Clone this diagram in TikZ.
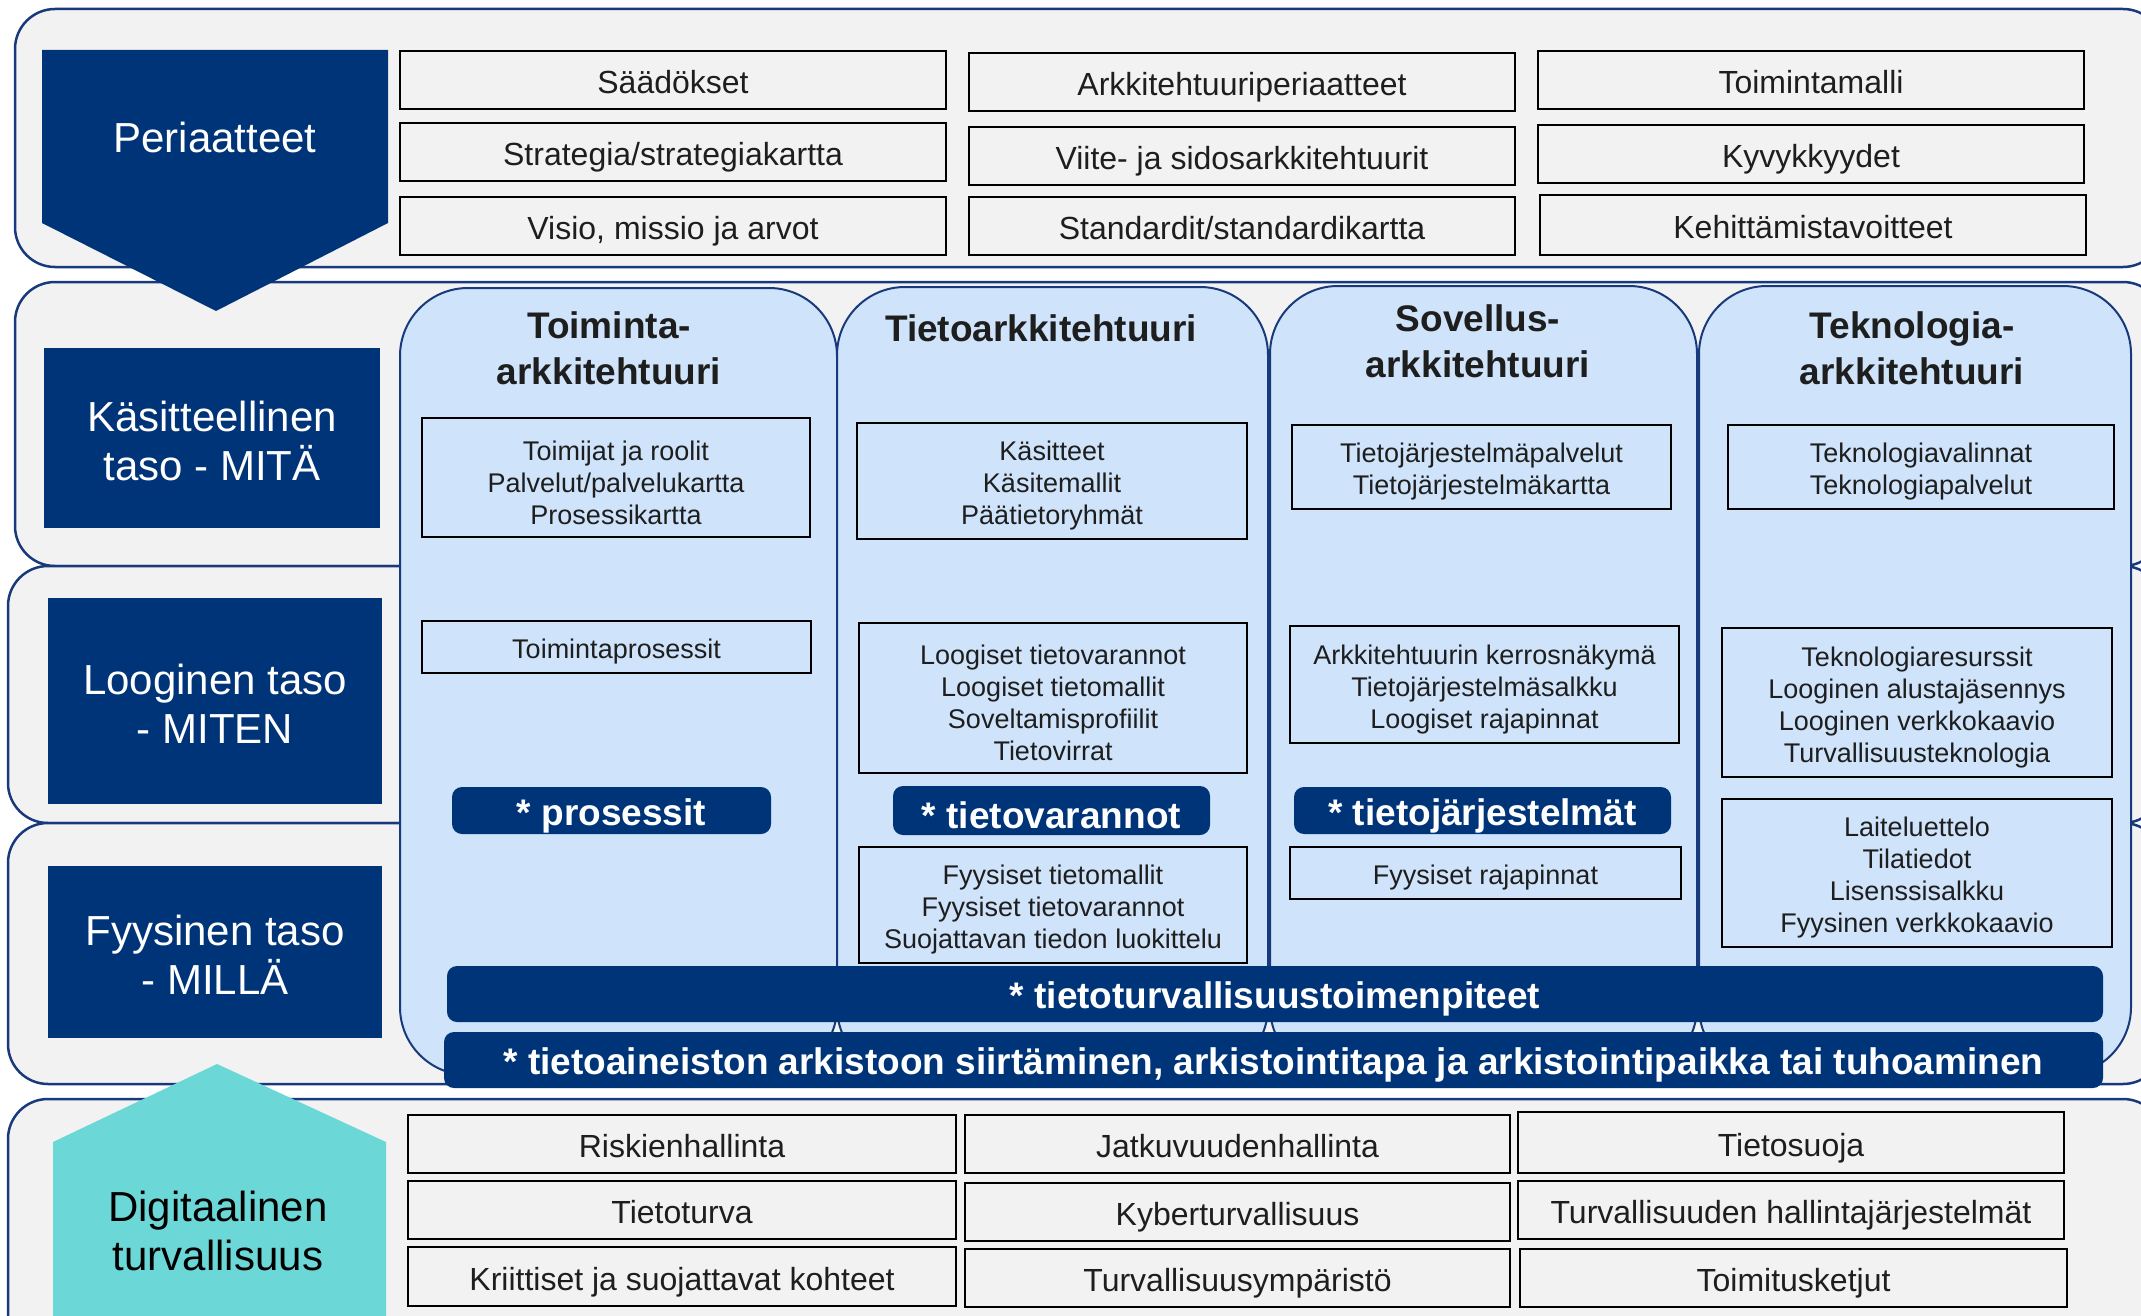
\documentclass[tikz,border=0pt]{standalone}
\usepackage{fontspec}
\setmainfont{Liberation Sans}
\definecolor{navy}{RGB}{0,52,120}
\definecolor{bandgray}{RGB}{242,242,242}
\definecolor{lblue}{RGB}{207,228,250}
\definecolor{tealc}{RGB}{108,215,215}
\definecolor{bandline}{RGB}{24,58,124}
\definecolor{txt}{RGB}{30,30,30}
\newcommand\mybox[7]{\node[#6,minimum width={#4-#2},minimum height={#5-#3}] (#1) at ({(#2+#4)/2},{(#3+#5)/2}) {};
  \node[#6t] (#1t) at (#1.center) {#7};}
\begin{document}
\begin{tikzpicture}[x=1pt,y=-1pt,
 band/.style={fill=bandgray,draw=bandline,line width=2.5pt,rounded corners=40pt},
 panel/.style={fill=lblue,draw=bandline,line width=2pt,rounded corners=68pt},
 gbox/.style={draw=black,line width=2.4pt,fill=bandgray,inner sep=0pt},
 gboxt/.style={inner sep=0pt,text=txt,text height=23pt,text depth=0pt,yshift=-2pt,font=\fontsize{32}{38}\selectfont},
 ibox/.style={draw=black,line width=2.2pt,fill=lblue,inner sep=0pt},
 iboxt/.style={inner sep=0pt,text=txt,align=center,yshift=-5pt,font=\fontsize{27}{32}\selectfont},
 nbar/.style={fill=navy,rounded corners=10pt,inner sep=0pt},
 nbart/.style={inner sep=0pt,text=white,yshift=-5pt,font=\bfseries\fontsize{37}{44}\selectfont},
 lab/.style={fill=navy,inner sep=0pt},
 labt/.style={inner sep=0pt,text=white,align=center,yshift=-3pt,font=\fontsize{42}{49}\selectfont},
 labtext/.style={inner sep=0pt,align=center,font=\fontsize{42}{49}\selectfont},
 head/.style={inner sep=0pt,text=txt,align=center,font=\bfseries\fontsize{37}{46}\selectfont}
]
\useasboundingbox (0,0) rectangle (2141,1316);
\clip (0,0) rectangle (2141,1316);
% bands
\path[band] (15,9) rectangle (2163,267);
\path[band] (15,282) rectangle (2163,566);
\path[band] (8,566) rectangle (2163,823);
\path[band] (8,823) rectangle (2163,1084);
\path[band] (8,1099) rectangle (2163,1380);
% principles arrow
\fill[navy] (42,50) -- (388,50) -- (388,223) -- (216,311) -- (42,223) -- cycle;
\node[labtext,text=white] (peri) at (215,137) {Periaatteet};
% top boxes
\mybox{s1}{400}{51}{946}{109}{gbox}{Säädökset}
\mybox{s2}{400}{123}{946}{181}{gbox}{Strategia/strategiakartta}
\mybox{s3}{400}{197}{946}{255}{gbox}{Visio, missio ja arvot}
\mybox{a1}{969}{53}{1515}{111}{gbox}{Arkkitehtuuriperiaatteet}
\mybox{a2}{969}{127}{1515}{185}{gbox}{Viite- ja sidosarkkitehtuurit}
\mybox{a3}{969}{197}{1515}{255}{gbox}{Standardit/standardikartta}
\mybox{t1}{1538}{51}{2084}{109}{gbox}{Toimintamalli}
\mybox{t2}{1538}{125}{2084}{183}{gbox}{Kyvykkyydet}
\mybox{t3}{1540}{195}{2086}{255}{gbox}{Kehittämistavoitteet}
% layer labels
\mybox{lk}{44}{348}{380}{528}{lab}{Käsitteellinen\\taso - MITÄ}
\mybox{ll}{48}{598}{382}{804}{lab}{Looginen taso\\- MITEN}
\mybox{lf}{48}{866}{382}{1038}{lab}{Fyysinen taso\\- MILLÄ}
% panels
\path[panel] (400,288) rectangle (837,1075);
\path[panel] (837,287) rectangle (1268,1075);
\path[panel] (1270,286) rectangle (1697,1075);
\path[panel] (1699,286) rectangle (2131,1075);
\node[head] (h1) at (609,348) {Toiminta-\\arkkitehtuuri};
\node[head] (h2) at (1041,328) {Tietoarkkitehtuuri};
\node[head] (h3) at (1478,341) {Sovellus-\\arkkitehtuuri};
\node[head] (h4) at (1912,348) {Teknologia-\\arkkitehtuuri};
% column 1
\mybox{c1a}{422}{418}{810}{537}{ibox}{Toimijat ja roolit\\Palvelut/palvelukartta\\Prosessikartta}
\mybox{c1b}{422}{621}{811}{673}{ibox}{Toimintaprosessit}
\mybox{c1c}{452}{787}{771}{834}{nbar}{* prosessit}
% column 2
\mybox{c2a}{857}{423}{1247}{539}{ibox}{Käsitteet\\Käsitemallit\\Päätietoryhmät}
\mybox{c2b}{859}{623}{1247}{773}{ibox}{Loogiset tietovarannot\\Loogiset tietomallit\\Soveltamisprofiilit\\Tietovirrat}
\mybox{c2c}{893}{786}{1210}{835}{nbar}{* tietovarannot}
\mybox{c2d}{859}{847}{1247}{963}{ibox}{Fyysiset tietomallit\\Fyysiset tietovarannot\\Suojattavan tiedon luokittelu}
% column 3
\mybox{c3a}{1292}{425}{1671}{509}{ibox}{Tietojärjestelmäpalvelut\\Tietojärjestelmäkartta}
\mybox{c3b}{1290}{626}{1679}{743}{ibox}{Arkkitehtuurin kerrosnäkymä\\Tietojärjestelmäsalkku\\Loogiset rajapinnat}
\mybox{c3c}{1294}{787}{1671}{834}{nbar}{* tietojärjestelmät}
\mybox{c3d}{1290}{847}{1681}{899}{ibox}{Fyysiset rajapinnat}
% column 4
\mybox{c4a}{1728}{425}{2114}{509}{ibox}{Teknologiavalinnat\\Teknologiapalvelut}
\mybox{c4b}{1722}{628}{2112}{777}{ibox}{Teknologiaresurssit\\Looginen alustajäsennys\\Looginen verkkokaavio\\Turvallisuusteknologia}
\mybox{c4c}{1722}{799}{2112}{947}{ibox}{Laiteluettelo\\Tilatiedot\\Lisenssisalkku\\Fyysinen verkkokaavio}
% wide bars
\mybox{w1}{447}{966}{2103}{1022}{nbar}{* tietoturvallisuustoimenpiteet}
\mybox{w2}{444}{1032}{2103}{1088}{nbar}{* tietoaineiston arkistoon siirtäminen, arkistointitapa ja arkistointipaikka tai tuhoaminen}
% security house
\fill[tealc] (53,1142) -- (217,1064) -- (386,1142) -- (386,1330) -- (53,1330) -- cycle;
\node[labtext,text=black] (dig) at (218,1231) {Digitaalinen\\turvallisuus};
% bottom boxes
\mybox{b1}{408}{1115}{956}{1173}{gbox}{Riskienhallinta}
\mybox{b2}{408}{1181}{956}{1239}{gbox}{Tietoturva}
\mybox{b3}{408}{1247}{956}{1306}{gbox}{Kriittiset ja suojattavat kohteet}
\mybox{b4}{965}{1115}{1510}{1173}{gbox}{Jatkuvuudenhallinta}
\mybox{b5}{965}{1183}{1510}{1241}{gbox}{Kyberturvallisuus}
\mybox{b6}{965}{1249}{1510}{1307}{gbox}{Turvallisuusympäristö}
\mybox{b7}{1518}{1112}{2064}{1173}{gbox}{Tietosuoja}
\mybox{b8}{1518}{1181}{2064}{1239}{gbox}{Turvallisuuden hallintajärjestelmät}
\mybox{b9}{1520}{1249}{2067}{1307}{gbox}{Toimitusketjut}
\end{tikzpicture}
\end{document}
